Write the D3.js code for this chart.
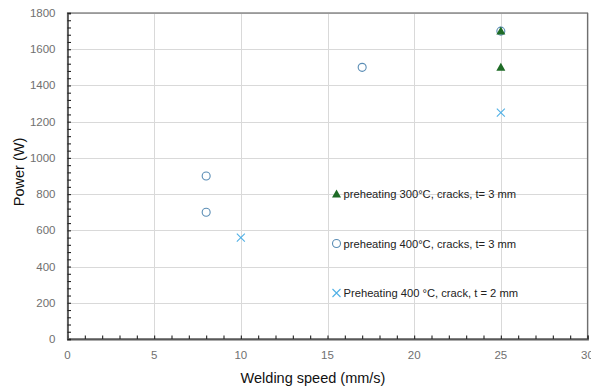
<!DOCTYPE html>
<html>
<head>
<meta charset="utf-8">
<script src="https://cdn.jsdelivr.net/npm/d3@7"></script>
<style>
  html, body { margin: 0; padding: 0; background: #fff; }
  svg { display: block; }
  text { font-family: "Liberation Sans", Arial, sans-serif; }
</style>
</head>
<body>
<svg id="chart" width="591" height="390"></svg>
<script>
// Welding speed (mm/s) vs. power (W) for each preheating / thickness case
const tri300Speed = [25, 25];
const tri300Power = [1700, 1500];

const circ400Speed = [8, 8, 17, 25];
const circ400Power = [900, 700, 1500, 1700];

const x400Speed = [10, 25];
const x400Power = [560, 1250];

const xTicks = [0, 5, 10, 15, 20, 25, 30];
const yTicks = [0, 200, 400, 600, 800, 1000, 1200, 1400, 1600, 1800];

const seriesNames = [
  "preheating 300°C, cracks, t= 3 mm",
  "preheating 400°C, cracks, t= 3 mm",
  "Preheating 400 °C, crack, t = 2 mm"
];

const zip = (xs, ys) => xs.map((x, i) => ({ x, y: ys[i] }));

const svg = d3.select("#chart");
const margin = { left: 67.5, right: 3.5, top: 13, bottom: 51 };
const W = 591, H = 390;

const x = d3.scaleLinear().domain([0, 30]).range([margin.left, W - margin.right]);
const y = d3.scaleLinear().domain([0, 1800]).range([H - margin.bottom, margin.top]);

const gridColor = "#d9d9d9";
const axisColor = "#595959";

// gridlines
svg.append("g").selectAll("line.h").data(yTicks.slice(1)).join("line")
  .attr("x1", x(0)).attr("x2", x(30))
  .attr("y1", d => Math.round(y(d)) + 0.5).attr("y2", d => Math.round(y(d)) + 0.5)
  .attr("stroke", gridColor).attr("stroke-width", 1);
svg.append("g").selectAll("line.v").data(xTicks.slice(1)).join("line")
  .attr("y1", y(0)).attr("y2", y(1800))
  .attr("x1", d => Math.round(x(d)) + 0.5).attr("x2", d => Math.round(x(d)) + 0.5)
  .attr("stroke", gridColor).attr("stroke-width", 1);

// plot frame
svg.append("rect")
  .attr("x", x(0)).attr("y", y(1800))
  .attr("width", x(30) - x(0)).attr("height", y(0) - y(1800))
  .attr("fill", "none").attr("stroke", "#6f6f6f").attr("stroke-width", 1.2);

// axes with inward ticks
const minorX = d3.range(0, 30.001, 1);
const minorY = d3.range(0, 1800.001, 40);

const xAxis = d3.axisBottom(x).tickValues(minorX).tickSize(-3.5).tickFormat("");
const yAxis = d3.axisLeft(y).tickValues(minorY).tickSize(-3.5).tickFormat("");

const gx = svg.append("g").attr("transform", `translate(0,${y(0)})`).call(xAxis);
const gy = svg.append("g").attr("transform", `translate(${x(0)},0)`).call(yAxis);
[gx, gy].forEach(g => {
  g.select(".domain").attr("stroke", axisColor).attr("stroke-width", 1.8);
  g.selectAll(".tick line").attr("stroke", "#222").attr("stroke-width", 1.1);
});

// tick labels
svg.append("g").selectAll("text").data(xTicks).join("text")
  .attr("x", d => x(d)).attr("y", y(0) + 20)
  .attr("text-anchor", "middle")
  .attr("fill", "#707070").attr("font-size", 11.5)
  .text(d => d);
svg.append("g").selectAll("text").data(yTicks).join("text")
  .attr("x", x(0) - 12).attr("y", d => y(d) + 4)
  .attr("text-anchor", "end")
  .attr("fill", "#707070").attr("font-size", 11.5)
  .text(d => d);

// axis titles
svg.append("text")
  .attr("x", 313).attr("y", 383)
  .attr("text-anchor", "middle").attr("font-size", 14.5).attr("fill", "#111")
  .text("Welding speed (mm/s)");
svg.append("text")
  .attr("transform", `translate(24,${(y(0) + y(1800)) / 2 - 4}) rotate(-90)`)
  .attr("text-anchor", "middle").attr("font-size", 14.5).attr("fill", "#111")
  .text("Power (W)");

// marker styles
const green = "#1e6b26";
const circBlue = "#5a8db5";
const xBlue = "#4fb0e6";

function drawCircle(g, cx, cy) {
  g.append("circle").attr("cx", cx).attr("cy", cy).attr("r", 4)
    .attr("fill", "none").attr("stroke", circBlue).attr("stroke-width", 1.1);
}
function drawTriangle(g, cx, cy) {
  g.append("path")
    .attr("d", `M${cx},${cy - 4.5}L${cx + 4.5},${cy + 3.5}L${cx - 4.5},${cy + 3.5}Z`)
    .attr("fill", green);
}
function drawCross(g, cx, cy) {
  const s = 4;
  g.append("path")
    .attr("d", `M${cx - s},${cy - s}L${cx + s},${cy + s}M${cx - s},${cy + s}L${cx + s},${cy - s}`)
    .attr("stroke", xBlue).attr("stroke-width", 1.1).attr("fill", "none");
}

const marks = svg.append("g");
zip(circ400Speed, circ400Power).forEach(d => drawCircle(marks, x(d.x), y(d.y)));
zip(x400Speed, x400Power).forEach(d => drawCross(marks, x(d.x), y(d.y)));
zip(tri300Speed, tri300Power).forEach(d => drawTriangle(marks, x(d.x), y(d.y)));

// legend
const legend = svg.append("g");
const legendRows = [
  { name: seriesNames[0], draw: drawTriangle, y: 194 },
  { name: seriesNames[1], draw: drawCircle, y: 243.5 },
  { name: seriesNames[2], draw: drawCross, y: 293 }
];
legendRows.forEach(r => {
  r.draw(legend, 336.5, r.y);
  legend.append("text")
    .attr("x", 343.5).attr("y", r.y + 4)
    .attr("font-size", 11.2).attr("fill", "#222")
    .attr("font-family", "'Liberation Sans Narrow', 'Liberation Sans', Arial, sans-serif")
    .text(r.name);
});
</script>
</body>
</html>
